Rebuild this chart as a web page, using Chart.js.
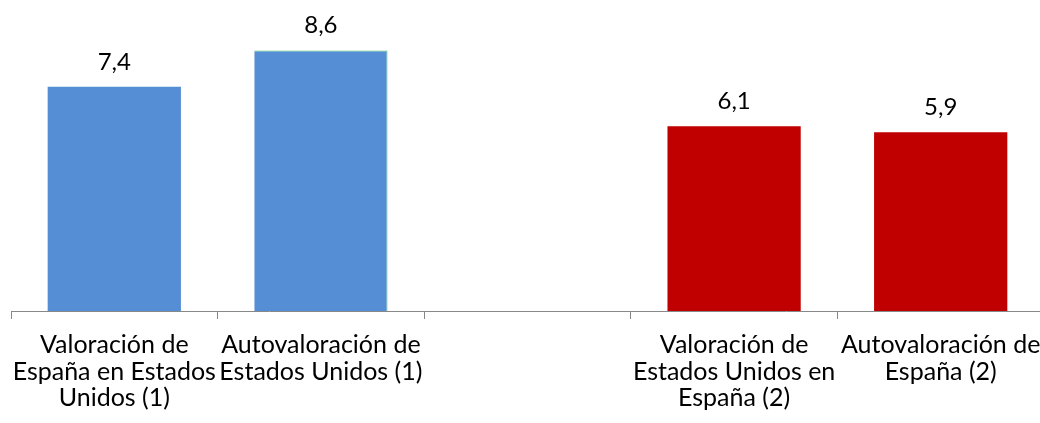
<!DOCTYPE html>
<html>
<head>
<meta charset="utf-8">
<script src="https://cdn.jsdelivr.net/npm/chart.js@4"></script>
<style>
  html, body { margin: 0; padding: 0; background: #fff; overflow: hidden; }
  #wrap { width: 1044px; height: 423px; }
</style>
</head>
<body>
<div id="wrap"><canvas id="chart"></canvas></div>
<script>
// categories (middle slot left empty as a spacer between the two groups)
const categories = [
  ["Valoración de", "España en Estados", "Unidos (1)"],
  ["Autovaloración de", "Estados Unidos (1)"],
  "",
  ["Valoración de", "Estados Unidos en", "España (2)"],
  ["Autovaloración de", "España (2)"]
];
const scores = [7.4, 8.6, null, 6.1, 5.9];
const barColors = ["#558ED5", "#558ED5", "#558ED5", "#C00000", "#C00000"];

const FONT = "Lato, 'Open Sans', sans-serif";

// writes each bar's value above it, with a decimal comma
const valueLabels = {
  id: "valueLabels",
  afterDatasetsDraw(chart) {
    const ctx = chart.ctx;
    const meta = chart.getDatasetMeta(0);
    ctx.save();
    ctx.font = "24px " + FONT;
    ctx.fillStyle = "#000";
    ctx.textAlign = "center";
    ctx.textBaseline = "middle";
    meta.data.forEach((bar, i) => {
      const v = scores[i];
      if (v == null) return;
      ctx.fillText(v.toFixed(1).replace(".", ","), bar.x, bar.y - 25);
    });
    ctx.restore();
  }
};

new Chart(document.getElementById("chart"), {
  type: "bar",
  data: {
    labels: categories,
    datasets: [{
      data: scores,
      backgroundColor: barColors,
      borderColor: ["#558ED5", "#4FC47A", "#558ED5", "#C00000", "#C00000"],
      borderWidth: [0, { top: 1, right: 1, left: 0, bottom: 0 }, 0, 0, 0],
      borderSkipped: false,
      categoryPercentage: 1,
      barPercentage: 0.645
    }]
  },
  options: {
    responsive: true,
    maintainAspectRatio: false,
    animation: false,
    layout: { padding: { left: 11, right: 0, top: 8, bottom: 0 } },
    plugins: { legend: { display: false }, tooltip: { enabled: false } },
    scales: {
      y: { display: false, min: 0, max: 10 },
      x: {
        offset: true,
        border: { display: true, color: "#888", width: 1 },
        grid: {
          offset: true,
          drawOnChartArea: false,
          drawTicks: true,
          tickLength: 8,
          color: "#888"
        },
        ticks: {
          color: "#000",
          maxRotation: 0,
          autoSkip: false,
          padding: 13,
          font: { family: FONT, size: 25, lineHeight: 1.06 }
        },
        afterFit(scale) {
          // keep the axis flush with the edges; labels may spill over
          scale.height = 112;
          scale.paddingLeft = 0;
          scale.paddingRight = 0;
        }
      }
    }
  },
  plugins: [valueLabels]
});
</script>
</body>
</html>
